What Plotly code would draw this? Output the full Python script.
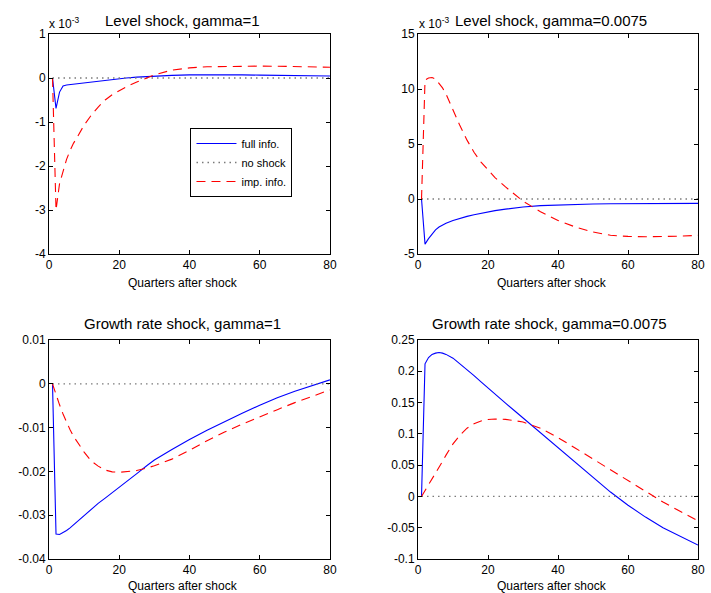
import plotly.graph_objects as go

# ---------------- data ----------------
quarters = [1, 2, 3, 4, 5, 6, 7, 8, 10, 12, 14, 16, 18, 20, 22, 25, 28, 30,
            35, 40, 45, 50, 55, 60, 65, 70, 75, 80]
zero_x = [1, 80]
zero_y = [0, 0]

# Level shock, gamma=1  (units of 1e-3)
lvl1_full = [0, -0.69, -0.32, -0.18, -0.16, -0.15, -0.14, -0.13, -0.115, -0.10,
             -0.085, -0.065, -0.045, -0.02, 0.0, 0.02, 0.035, 0.045,
             0.06, 0.07, 0.075, 0.075, 0.07, 0.065, 0.06, 0.055, 0.05, 0.045]
lvl1_imp = [0, -3.0, -2.4, -2.1, -1.85, -1.65, -1.48, -1.35, -1.07, -0.85,
            -0.66, -0.5, -0.38, -0.29, -0.2, -0.09, 0.0, 0.07,
            0.18, 0.23, 0.255, 0.265, 0.27, 0.27, 0.268, 0.262, 0.255, 0.245]

# Level shock, gamma=0.0075  (units of 1e-3)
lvl2_full = [0, -4.1, -3.6, -3.15, -2.8, -2.55, -2.35, -2.2, -1.95, -1.75,
             -1.58, -1.43, -1.3, -1.17, -1.06, -0.92, -0.8, -0.73,
             -0.6, -0.53, -0.48, -0.45, -0.43, -0.42, -0.41, -0.41, -0.4, -0.4]
lvl2_imp = [0, 10.8, 11.0, 11.05, 10.9, 10.55, 10.1, 9.55, 8.05, 6.65,
            5.35, 4.25, 3.35, 2.6, 1.95, 1.1, 0.35, -0.2,
            -1.15, -1.95, -2.55, -3.0, -3.3, -3.4, -3.43, -3.42, -3.38, -3.3]

# Growth rate shock, gamma=1
gr1_full = [0, -0.0343, -0.0344, -0.0340, -0.0335, -0.0329, -0.0322, -0.0314, -0.0300, -0.0287,
            -0.0273, -0.0261, -0.0249, -0.0237, -0.0224, -0.0205, -0.0186, -0.0174,
            -0.0150, -0.0127, -0.0106, -0.0086, -0.0067, -0.0049, -0.0032, -0.0017, -0.0004, 0.0009]
gr1_imp = [0, -0.0025, -0.0048, -0.0069, -0.0088, -0.0105, -0.0120, -0.0133, -0.0156, -0.0176,
           -0.0188, -0.0197, -0.0201, -0.0202, -0.0201, -0.0198, -0.0192, -0.0187,
           -0.0172, -0.0152, -0.0130, -0.0110, -0.0092, -0.0075, -0.0059, -0.0043, -0.0028, -0.0014]

# Growth rate shock, gamma=0.0075
gr2_full = [0, 0.212, 0.222, 0.227, 0.229, 0.230, 0.229, 0.227, 0.221, 0.212,
            0.203, 0.193, 0.183, 0.173, 0.164, 0.149, 0.135, 0.1255,
            0.102, 0.079, 0.055, 0.030, 0.007, -0.014, -0.033, -0.050, -0.064, -0.0777]
gr2_imp = [0, 0.009, 0.019, 0.029, 0.038, 0.047, 0.056, 0.066, 0.084, 0.098,
           0.109, 0.116, 0.1205, 0.123, 0.1237, 0.1232, 0.121, 0.119,
           0.109, 0.094, 0.077, 0.060, 0.042, 0.025, 0.008, -0.009, -0.024, -0.039]

titles = ["Level shock, gamma=1", "Level shock, gamma=0.0075",
          "Growth rate shock, gamma=1", "Growth rate shock, gamma=0.0075"]
xlabel = "Quarters after shock"
x_ticks = [0, 20, 40, 60, 80]
y_ticks = [
    [1, 0, -1, -2, -3, -4],
    [15, 10, 5, 0, -5],
    [0.01, 0, -0.01, -0.02, -0.03, -0.04],
    [0.25, 0.2, 0.15, 0.1, 0.05, 0, -0.05, -0.1],
]
y_ticktext = [
    ["1", "0", "-1", "-2", "-3", "-4"],
    ["15", "10", "5", "0", "-5"],
    ["0.01", "0", "-0.01", "-0.02", "-0.03", "-0.04"],
    ["0.25", "0.2", "0.15", "0.1", "0.05", "0", "-0.05", "-0.1"],
]
y_ranges = [[-4, 1], [-5, 15], [-0.04, 0.01], [-0.1, 0.25]]
series_names = ["full info.", "no shock", "imp. info."]

# ---------------- layout helpers ----------------
W, H = 711, 593
ML, MR, MT, MB = 49, 6, 34, 34
PW, PH = W - ML - MR, H - MT - MB

def px_x(px):
    return (px - ML) / PW

def px_y(py):
    return (H - MB - py) / PH

x_domains = [[0, px_x(333)], [px_x(422), 1]]
y_domains = [[px_y(254), 1], [0, px_y(340)]]

FONT = "Liberation Sans, Arial, sans-serif"
BLUE = "#0000FF"
RED = "#FF0000"
GRAY = "#7a7a7a"

fig = go.Figure()
panels = [
    (lvl1_full, lvl1_imp),
    (lvl2_full, lvl2_imp),
    (gr1_full, gr1_imp),
    (gr2_full, gr2_imp),
]

for i, (full, imp) in enumerate(panels):
    r, c = divmod(i, 2)
    ax = "" if i == 0 else str(i + 1)
    xa, ya = "x" + ax, "y" + ax
    show = (i == 0)
    fig.add_trace(go.Scatter(x=quarters, y=full, mode="lines", name=series_names[0],
                             line=dict(color=BLUE, width=1.1), xaxis=xa, yaxis=ya,
                             showlegend=show, legendrank=1))
    fig.add_trace(go.Scatter(x=zero_x, y=zero_y, mode="lines", name=series_names[1],
                             line=dict(color=GRAY, width=1.3, dash="1.5px,4px"), xaxis=xa, yaxis=ya,
                             showlegend=show, legendrank=2))
    fig.add_trace(go.Scatter(x=quarters, y=imp, mode="lines", name=series_names[2],
                             line=dict(color=RED, width=1.1, dash="9px,6px"), xaxis=xa, yaxis=ya,
                             showlegend=show, legendrank=3))
    common = dict(showgrid=False, zeroline=False, showline=True, linecolor="black",
                  linewidth=1, mirror="ticks", ticks="inside", ticklen=4,
                  tickcolor="black", tickfont=dict(family=FONT, size=12, color="black"))
    fig.layout["xaxis" + ax] = dict(domain=x_domains[c], range=[0, 80], tickvals=x_ticks,
                                    anchor=ya, **common)
    fig.layout["yaxis" + ax] = dict(domain=y_domains[r], range=y_ranges[i], tickvals=y_ticks[i],
                                    ticktext=y_ticktext[i], anchor=xa, **common)

annotations = []
title_pos = [(184, 20), (556, 20), (184, 323), (555, 323)]
label_pos = [(184, 283), (557, 283), (184, 586), (557, 586)]
for i in range(4):
    tx, ty = title_pos[i]
    annotations.append(dict(text=titles[i], x=px_x(tx), y=px_y(ty), xref="paper", yref="paper",
                            xanchor="center", yanchor="middle", showarrow=False,
                            font=dict(family=FONT, size=15, color="black")))
    lx, ly = label_pos[i]
    annotations.append(dict(text=xlabel, x=px_x(lx), y=px_y(ly), xref="paper", yref="paper",
                            xanchor="center", yanchor="middle", showarrow=False,
                            font=dict(family=FONT, size=12, color="black")))
for ex in (47, 421):
    annotations.append(dict(text="x 10<sup>-3</sup>", x=px_x(ex), y=px_y(23), xref="paper",
                            yref="paper", xanchor="left", yanchor="middle", showarrow=False,
                            font=dict(family=FONT, size=12, color="black")))

fig.update_layout(
    width=W, height=H,
    margin=dict(l=ML, r=MR, t=MT, b=MB, pad=0),
    paper_bgcolor="white", plot_bgcolor="white",
    annotations=annotations,
    showlegend=True,
    legend=dict(x=px_x(192), y=px_y(128), xanchor="left", yanchor="top",
                bgcolor="white", bordercolor="black", borderwidth=1,
                font=dict(family=FONT, size=11, color="black"),
                tracegroupgap=0, itemwidth=40),
)

fig.write_html("out.html", config={"displayModeBar": False},
               post_script="document.body.style.margin='0';document.body.style.padding='0';")
